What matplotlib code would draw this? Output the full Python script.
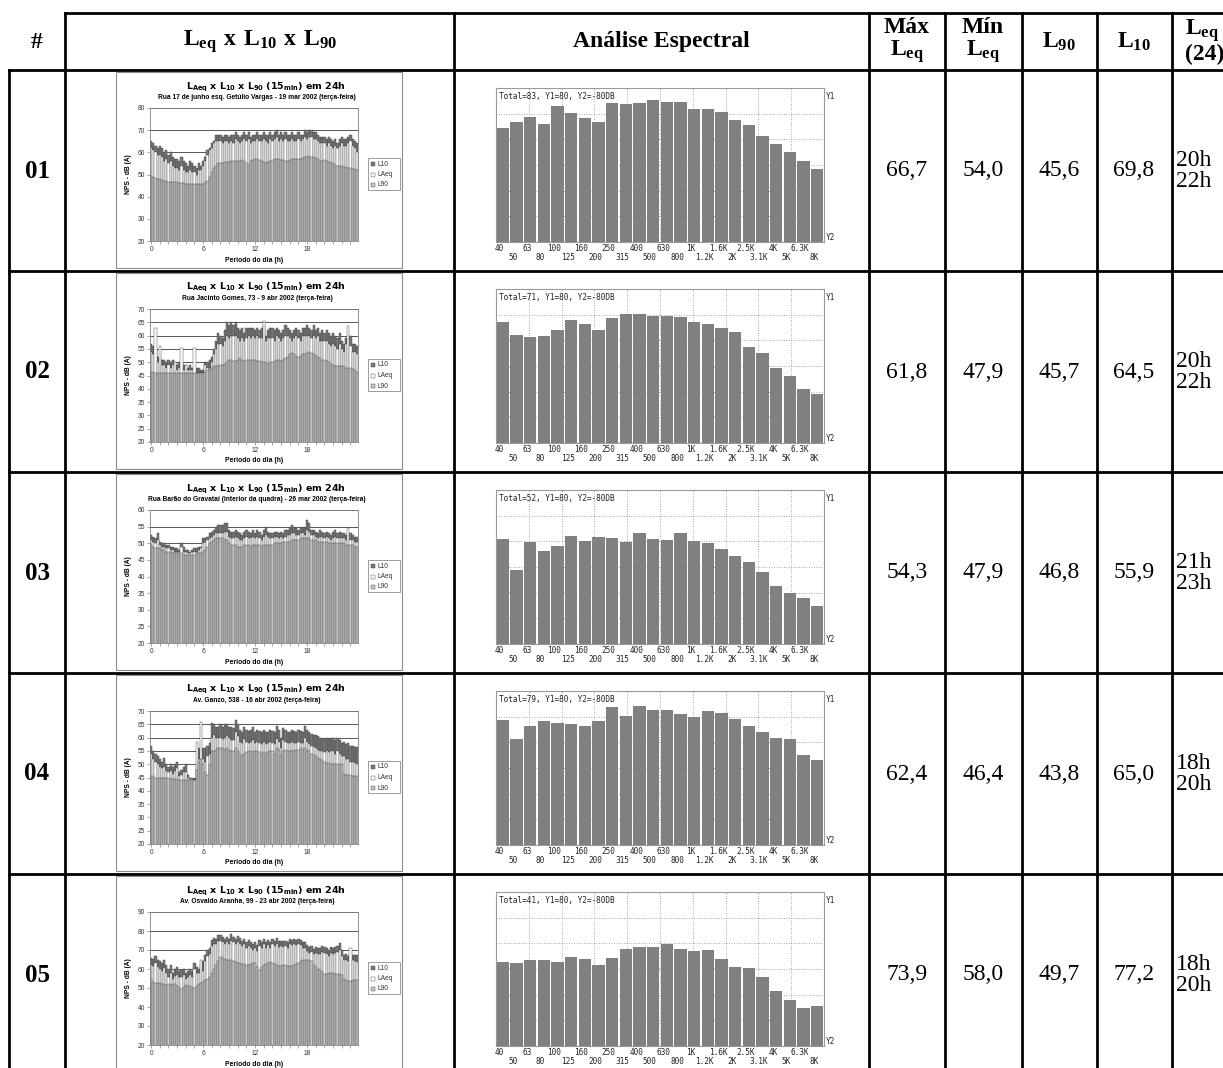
import matplotlib
matplotlib.use('Agg')
import matplotlib.pyplot as plt
from matplotlib.patches import Rectangle
import numpy as np

plt.rcParams['mathtext.rm'] = 'Liberation Serif'
plt.rcParams['mathtext.bf'] = 'Liberation Serif:bold'

# ---- table values ----
row_ids = ['01', '02', '03', '04', '05']
max_leq = ['66,7', '61,8', '54,3', '62,4', '73,9']
min_leq = ['54,0', '47,9', '47,9', '46,4', '58,0']
l90_col = ['45,6', '45,7', '46,8', '43,8', '49,7']
l10_col = ['69,8', '64,5', '55,9', '65,0', '77,2']
leq24 = ['20h\n22h', '20h\n22h', '21h\n23h', '18h\n20h', '18h\n20h']

# ---- 15 min series (96 values per day) ----
quarter = list(range(96))
hour_ticks = [0, 24, 48, 72]
hour_labels = ['0', '6', '12', '18']

l10_01 = [65, 64, 63, 62, 63, 62, 60, 61, 59, 60, 58, 57, 57, 56, 58, 56,
          55, 54, 56, 55, 54, 53, 55, 54, 56, 58, 61, 62, 64, 65, 68, 68,
          68, 67, 68, 68, 67, 68, 68, 69, 68, 67, 68, 69, 68, 69, 67, 68,
          68, 69, 68, 68, 69, 68, 68, 69, 68, 69, 70, 68, 69, 68, 69, 68,
          68, 69, 68, 68, 69, 68, 68, 70, 69, 70, 70, 69, 69, 68, 67, 67,
          67, 66, 67, 66, 65, 66, 64, 66, 67, 66, 66, 67, 68, 66, 65, 64]
laeq_01 = [62, 61, 60, 59, 59, 58, 56, 57, 55, 56, 54, 53, 53, 52, 54, 52,
           51, 51, 52, 51, 51, 50, 52, 52, 54, 56, 59, 61, 62, 64, 65, 65,
           65, 64, 65, 65, 64, 65, 64, 66, 65, 64, 65, 66, 65, 66, 64, 65,
           65, 66, 65, 65, 66, 65, 64, 66, 65, 66, 67, 65, 66, 65, 66, 65,
           65, 66, 65, 65, 66, 65, 66, 67, 66, 67, 67, 66, 66, 65, 64, 64,
           64, 63, 64, 63, 62, 63, 62, 63, 64, 63, 63, 64, 65, 63, 62, 60]
l90_01 = [49.5, 49, 48.5, 48, 48, 47.5, 47, 47, 46.5, 46.5, 46.5, 46.5, 46.5, 46, 46, 46,
          45.5, 45.5, 45.5, 45.5, 45.5, 45.5, 45.5, 45.5, 45.5, 46, 47, 49, 51, 53, 54, 55,
          55, 55, 55.5, 55.5, 55.5, 56, 56, 56, 56, 56, 56.5, 56, 55, 54.5, 56, 56.5,
          57, 57, 56.5, 56, 55.5, 55, 55.5, 56, 56.5, 57, 57, 57, 56.5, 56.5, 56, 56,
          56.5, 57, 57, 57, 57, 57, 57.5, 58, 58, 58.5, 58, 58, 57.5, 57, 56, 56,
          56.5, 56, 55.5, 55, 55, 54.5, 54, 54, 54, 53.5, 53.5, 53, 53, 52.5, 52.5, 52]

l10_02 = [57, 56, 55, 52, 52, 51, 51, 50, 51, 50, 51, 50, 49, 50, 50, 49,
          49, 48, 49, 48, 47, 48, 48, 47, 47, 50, 50, 51, 52, 55, 58, 61,
          60, 59, 62, 65, 64, 65, 64, 65, 63, 62, 63, 61, 63, 63, 63, 63,
          62, 63, 62, 63, 64, 60, 62, 63, 63, 62, 63, 62, 61, 62, 64, 63,
          62, 61, 62, 63, 62, 61, 63, 63, 64, 63, 62, 64, 62, 63, 61, 62,
          61, 62, 61, 60, 61, 60, 59, 61, 58, 57, 59, 60, 60, 57, 57, 56]
laeq_02 = [54, 53, 63, 50, 56, 49, 49, 48, 49, 48, 49, 50, 47, 48, 55.5, 47,
           49, 47, 47, 47, 55.5, 46, 46, 46, 46, 49, 48, 48, 50, 53, 55, 57,
           57, 56, 58, 60, 59, 60, 60, 60, 59, 58, 59, 58, 59, 60, 59, 60,
           59, 60, 59, 59, 65.5, 58, 59, 59, 59, 58, 60, 59, 58, 59, 60, 60,
           59, 58, 59, 60, 59, 58, 60, 60, 60, 60, 59, 60, 59, 60, 58, 58,
           58, 58, 57, 56, 57, 56, 55, 57, 55, 54, 57, 63.5, 56, 54, 54, 53]
l90_02 = [46.5, 46.5, 46, 46, 46, 46, 46, 46, 46, 46, 46, 46, 46, 46, 46, 46,
          46, 46, 46, 46, 46, 46, 46, 46, 46, 46.5, 47, 47.5, 48, 48.5, 48.5, 48.5,
          49, 49, 49.5, 50, 51, 51, 50.5, 50.5, 51, 51.5, 51, 50.5, 51, 51, 51, 51,
          51, 50.5, 50.5, 50, 50, 50, 49.5, 50, 50, 50.5, 51, 51, 50.5, 51, 51.5, 52,
          53, 53.5, 53, 52.5, 52, 52.5, 53, 53, 53.5, 54, 53.5, 53, 52.5, 52, 51.5, 51,
          51, 50.5, 50, 49.5, 49, 48.5, 48.5, 48.5, 48.5, 48.5, 48, 48, 48, 47.5, 47, 46.5]

l10_03 = [52.5, 52, 51.5, 53, 50.5, 50, 50, 49.5, 49.5, 49, 49, 48.5, 48.5, 48, 50, 49,
          48, 48, 47.5, 48, 48.5, 48.5, 49, 49, 51.5, 51.5, 52, 53, 53.5, 54, 55, 55.5,
          55.5, 55.5, 56, 56, 54, 53.5, 53.5, 54, 53.5, 53, 52.5, 53.5, 54, 53.5, 53, 54,
          53, 54, 53.5, 52.5, 54, 55, 53.5, 53, 53, 53.5, 53.5, 53, 53.5, 53, 54, 54,
          54.5, 55.5, 55, 54.5, 54, 54.5, 55, 54.5, 57, 56, 54, 54, 53.5, 53, 54, 53.5,
          53, 53.5, 53, 52.5, 53.5, 54, 53, 53.5, 53, 53, 52.5, 53, 53, 52.5, 52, 52]
laeq_03 = [51, 50.5, 50, 51, 49.5, 49, 49, 48.5, 48.5, 48, 48, 47.5, 47.5, 47.5, 49, 47.5,
           47.5, 47, 47, 47.5, 47.5, 47.5, 48, 48.5, 50, 50.5, 51, 51.5, 52, 52.5, 53, 53,
           53, 53, 53.5, 53.5, 52, 51.5, 51.5, 52, 51.5, 51, 51, 51.5, 52, 51.5, 51.5, 52,
           51.5, 52, 51.5, 51, 52, 52.5, 52, 51.5, 51.5, 52, 52, 51.5, 52, 51.5, 52, 52.5,
           52.5, 53, 53, 52.5, 52.5, 53, 53, 52.5, 54, 53.5, 52.5, 52.5, 52, 51.5, 52, 52,
           51.5, 52, 51.5, 51, 51.5, 52, 51.5, 51.5, 51.5, 51.5, 51, 54.5, 51, 51, 50.5, 50.5]
l90_03 = [49.5, 49, 48.5, 48.5, 48.5, 48, 48, 47.5, 47.5, 47.5, 47, 47, 47, 47, 47, 46.5,
          46.5, 46.5, 46.5, 46.5, 46.5, 47, 47, 47, 47.5, 48, 49, 50, 50.5, 51, 51.5, 51.5,
          51.5, 51.5, 51, 51, 50, 49.5, 49.5, 49.5, 49, 49, 49, 49.5, 49.5, 49.5, 49, 49.5,
          49.5, 49.5, 49.5, 49, 49.5, 49.5, 49.5, 49.5, 49.5, 50, 50, 50, 50, 50.5, 50.5, 50.5,
          50.5, 51, 51, 51, 51, 51.5, 51.5, 51.5, 51.5, 51.5, 51, 51, 51, 50.5, 50.5, 50.5,
          50.5, 50.5, 50, 50, 50, 50, 50, 50, 50, 50, 49.5, 49.5, 49.5, 49.5, 49, 49]

l10_04 = [57, 55, 54, 53, 52, 51, 52.5, 50, 49, 50, 49, 50, 51, 47, 48, 49,
          50, 46, 45, 45, 44.5, 50, 56, 55, 56, 56, 57, 58, 65.5, 65, 64, 64,
          65, 64, 65, 65, 64, 64, 63.5, 66.5, 65, 63, 62, 64, 63, 62.5, 63, 64,
          62, 63, 62.5, 62, 63, 62, 62, 63, 62.5, 62, 64.5, 63, 60, 63.5, 63, 62,
          62, 63, 62.5, 62, 63, 62.5, 62, 64.5, 63, 62, 61.5, 61, 61, 60.5, 60, 60,
          59.5, 60, 59.5, 60, 60, 59, 60, 59, 58, 58.5, 57.5, 58, 57, 57, 56.5, 56.5]
laeq_04 = [54, 52, 51, 50, 49, 48.5, 49, 47.5, 47, 47.5, 46.5, 47.5, 48.5, 45.5, 46, 47,
           47, 45, 44.5, 44.5, 44, 58.5, 52, 66, 52, 51, 53, 54, 60, 61, 60, 60,
           60, 59.5, 60, 60.5, 60, 59, 59, 62, 60.5, 58.5, 58, 59.5, 58.5, 58, 58.5, 59,
           58, 58.5, 58, 57.5, 58.5, 57.5, 58, 58.5, 58, 57.5, 59.5, 58.5, 56, 59, 58.5, 58,
           58, 58.5, 58, 58, 58.5, 58, 58, 60, 58.5, 57.5, 57, 56.5, 56, 55.5, 55, 55,
           54.5, 55, 54.5, 55, 55, 54, 55, 54, 53, 53, 52, 52, 51, 51, 50.5, 50]
l90_04 = [45.5, 45.5, 45, 45, 45, 45, 45, 45, 45, 44.5, 44.5, 44.5, 44.5, 44, 44, 44,
          44, 44, 44, 44, 44, 48, 51, 52, 50, 47, 46, 50, 55, 55, 55.5, 56,
          56, 56, 55.5, 56, 55.5, 55, 55, 56, 55, 54, 53, 54, 54.5, 55, 55, 54.5,
          55, 55, 54.5, 54, 54.5, 54, 54.5, 55, 55, 54, 56, 55.5, 53, 55, 55.5, 55,
          55, 55.5, 55, 55.5, 55.5, 56, 55.5, 56, 55.5, 55, 54, 53.5, 53, 52.5, 52, 51.5,
          51, 50.5, 50.5, 50, 50, 50, 50, 50, 50, 46.5, 46, 46, 46, 45.5, 45.5, 45.5]

l10_05 = [66, 65.5, 67, 65, 64, 63, 64.5, 62, 60, 62, 58, 60, 61, 59, 59.5, 60,
          58, 59, 60, 59, 63, 61, 60, 62, 64, 67.5, 70, 71, 75.5, 76.5, 76, 78,
          78, 77, 76, 77, 76, 78.5, 77, 76, 77.5, 76.5, 75, 76, 74, 75.5, 74, 73,
          74, 72.5, 75.5, 74, 76, 74, 75.5, 74, 76, 75, 76.5, 74.5, 75, 74.5, 75, 74,
          76, 75.5, 76, 75.5, 76, 75.5, 74, 74, 72.5, 71.5, 72, 70.5, 71.5, 71, 71, 72,
          71.5, 71, 70, 71.5, 71, 71.5, 72, 73.5, 70, 67.5, 68, 67, 68, 67.5, 67.5, 67.5]
laeq_05 = [62, 61.5, 63, 61, 60, 59, 60.5, 58, 56, 58, 55, 56.5, 57, 56, 56, 57,
           55, 56, 57, 56, 60, 58, 58, 64.5, 59, 64, 67, 68, 72, 73, 73, 74.5,
           74.5, 74, 73, 74, 73, 75, 74, 73, 74, 73, 72, 73, 71, 72, 71, 70,
           71, 69.5, 72, 71, 73, 71, 72.5, 71, 73, 72, 73, 71.5, 72, 71.5, 72, 71,
           73, 72.5, 73, 72.5, 73, 72.5, 71, 71, 69.5, 68.5, 69, 68, 68.5, 68, 68, 69,
           68.5, 68, 67, 68.5, 68, 68.5, 69, 70, 67, 64.5, 65, 64, 71, 64.5, 64, 63.5]
l90_05 = [55, 53, 52.5, 52.5, 52.5, 52, 52, 51.5, 52, 51.5, 52, 52, 51, 50.5, 49.5, 50.5,
          51.5, 51, 51, 50.5, 50, 51, 52, 52.5, 53, 54, 55, 56, 58, 60, 62, 64,
          66.5, 66, 65.5, 65, 65, 64.5, 64, 63.5, 63, 63, 62.5, 62.5, 62, 62, 62.5, 63,
          63, 61, 59.5, 61, 62, 62.5, 63, 63.5, 63, 62.5, 62, 61.5, 61.5, 62, 62, 61.5,
          61.5, 61.5, 62, 62.5, 63, 64, 65, 65, 65, 64.5, 64, 62, 61, 60, 59.5, 58.5,
          57.5, 57.5, 58, 58, 58, 57.5, 57.5, 57.5, 57, 55, 54, 53.5, 53.5, 54, 54, 54]

l10_series = [l10_01, l10_02, l10_03, l10_04, l10_05]
laeq_series = [laeq_01, laeq_02, laeq_03, laeq_04, laeq_05]
l90_series = [l90_01, l90_02, l90_03, l90_04, l90_05]
y_max = [80, 70, 60, 70, 90]
y_step = [10, 5, 5, 5, 10]
subtitles = ['Rua 17 de junho esq. Getúlio Vargas - 19 mar 2002 (terça-feira)',
             'Rua Jacinto Gomes, 73 - 9 abr 2002 (terça-feira)',
             'Rua Barão do Gravataí (interior da quadra) - 26 mar 2002 (terça-feira)',
             'Av. Ganzo, 538 - 16 abr 2002 (terça-feira)',
             'Av. Osvaldo Aranha, 99 - 23 abr 2002 (terça-feira)']

# ---- spectra (dB, 24 third-octave bands) ----
bands = ['40', '50', '63', '80', '100', '125', '160', '200', '250', '315', '400', '500',
         '630', '800', '1K', '1.2K', '1.6K', '2K', '2.5K', '3.1K', '4K', '5K', '6.3K', '8K']
spec_01 = [38.8, 45.0, 49.9, 42.9, 61.0, 54.0, 49.2, 45.0, 64.4, 63.7, 64.4, 67.2,
           65.5, 65.8, 58.2, 58.2, 54.7, 47.1, 41.6, 30.5, 22.2, 13.9, 4.5, -3.8]
spec_02 = [45.7, 32.5, 29.8, 31.4, 37.2, 47.3, 43.6, 37.8, 49.4, 53.6, 54.1, 52.0,
           52.0, 50.4, 45.7, 43.6, 39.3, 35.1, 19.8, 13.5, -2.4, -10.3, -24.0, -28.8]
spec_03 = [28.8, -2.6, 26.1, 16.7, 21.4, 32.4, 26.7, 31.4, 30.3, 25.6, 35.0, 28.8,
           28.2, 35.6, 26.7, 24.6, 18.3, 11.0, 4.7, -5.7, -19.3, -27.2, -32.4, -40.8]
spec_04 = [50.2, 30.3, 43.4, 48.6, 47.1, 46.0, 43.9, 48.6, 63.3, 53.9, 64.3, 60.7,
           60.7, 56.5, 52.8, 59.1, 57.5, 50.7, 43.4, 37.6, 31.4, 29.8, 13.1, 7.8]
spec_05 = [7.1, 6.0, 9.2, 9.2, 7.1, 12.9, 10.2, 3.9, 11.8, 20.7, 22.8, 23.3,
           26.0, 20.7, 18.6, 19.7, 10.8, 2.4, 1.3, -8.1, -22.8, -31.7, -40.7, -38.0]
spectra = [spec_01, spec_02, spec_03, spec_04, spec_05]
totals = [83, 71, 52, 79, 41]
Y1, Y2 = 80, -80

# ---- figure in pixel coordinates ----
W, H = 1223, 1068
fig = plt.figure(figsize=(W / 100, H / 100), dpi=100)
base = fig.add_axes([0, 0, 1, 1])
base.set_xlim(0, W)
base.set_ylim(H, 0)
base.axis('off')


def px_axes(x0, y0, x1, y1):
    return fig.add_axes([x0 / W, 1 - y1 / H, (x1 - x0) / W, (y1 - y0) / H])


serif = 'Liberation Serif'
sans = 'Liberation Sans'
mono = 'DejaVu Sans Mono'

# table grid
row_h = 201
row_tops = [70 + row_h * i for i in range(5)]
lw = 2.0
base.plot([65, W], [13, 13], color='black', lw=lw)
base.plot([9, W], [70, 70], color='black', lw=lw)
for r0 in row_tops[1:]:
    base.plot([9, W], [r0, r0], color='black', lw=lw)
base.plot([9, 9], [70, H], color='black', lw=lw)
for xv in [65, 454, 869, 945, 1022, 1097, 1172]:
    base.plot([xv, xv], [13, H], color='black', lw=lw)

# header
hdr = dict(ha='center', va='center', fontsize=17, fontweight='bold', family=serif,
           math_fontfamily='custom', linespacing=1.0)
base.text(37, 42, '#', **hdr)
base.text(260, 42, r'$\mathbf{L_{eq}\ x\ L_{10}\ x\ L_{90}}$', **hdr)
base.text(661, 42, 'Análise Espectral', **hdr)
base.text(907, 41, 'Máx\n' + r'$\mathbf{L_{eq}}$', **hdr)
base.text(983, 41, 'Mín\n' + r'$\mathbf{L_{eq}}$', **hdr)
base.text(1059, 42, r'$\mathbf{L_{90}}$', **hdr)
base.text(1134, 42, r'$\mathbf{L_{10}}$', **hdr)
base.text(1185, 41, r'$\mathbf{L_{eq}}$' + '\n(24)', ha='left', va='center', fontsize=17,
          fontweight='bold', family=serif, math_fontfamily='custom', linespacing=1.0)

for i in range(5):
    r0 = row_tops[i]
    yc = r0 + 101
    base.text(37, yc, row_ids[i], ha='center', va='center', fontsize=18,
              fontweight='bold', family=serif)
    for xc, val in zip([907, 983, 1059, 1134], [max_leq[i], min_leq[i], l90_col[i], l10_col[i]]):
        base.text(xc, yc, val, ha='center', va='center', fontsize=17, family=serif)
    base.text(1176, yc, leq24[i], ha='left', va='center', fontsize=17, family=serif,
              linespacing=1.0)

    # ---- left chart (Excel style) ----
    base.add_patch(Rectangle((116, r0 + 2), 286, 196, facecolor='white',
                             edgecolor='#8c8c8c', lw=0.8))
    base.text(266, r0 + 19, r'$\mathbf{L_{Aeq}\ x\ L_{10}\ x\ L_{90}\ (15_{min})\ em\ 24h}$',
              ha='center', va='baseline', fontsize=6.8, math_fontfamily='dejavusans')
    base.text(257, r0 + 24, subtitles[i], ha='center', va='top', fontsize=4.8,
              fontweight='bold', family=sans)
    base.text(128, r0 + 104, 'NPS - dB (A)', ha='center', va='center', rotation=90,
              fontsize=4.8, fontweight='bold', family=sans)
    base.text(254, r0 + 190, 'Periodo do dia (h)', ha='center', va='center',
              fontsize=4.9, fontweight='bold', family=sans)

    ax = px_axes(150, r0 + 38, 358, r0 + 171)
    ax.bar(quarter, l10_series[i], width=1.0, color='#7a7a7a', edgecolor='#3c3c3c', lw=0.3)
    ax.bar(quarter, laeq_series[i], width=1.0, color='white', edgecolor='#3c3c3c', lw=0.3)
    ax.bar(quarter, l90_series[i], width=1.0, color='#c6c6c6', edgecolor='#3c3c3c', lw=0.3)
    ax.set_xlim(-0.5, 95.5)
    ax.set_ylim(20, y_max[i])
    ax.set_yticks(range(20, y_max[i] + 1, y_step[i]))
    ax.set_xticks(hour_ticks)
    ax.set_xticklabels(hour_labels)
    ax.set_xticks(range(0, 96, 4), minor=True)
    ax.set_axisbelow(True)
    ax.yaxis.grid(True, color='#3a3a3a', lw=0.6)
    ax.tick_params(labelsize=4.8, length=2, width=0.5, color='#808080', pad=1.5,
                   labelcolor='#333333')
    ax.tick_params(which='minor', length=2, width=0.5, color='#808080')
    for tl in ax.get_xticklabels() + ax.get_yticklabels():
        tl.set_family(sans)
    for sp in ax.spines.values():
        sp.set_color('#808080')
        sp.set_linewidth(0.6)

    # legend box
    base.add_patch(Rectangle((368, r0 + 88), 32, 32, facecolor='white',
                             edgecolor='#8c8c8c', lw=0.6))
    for k, (lab, col) in enumerate([('L10', '#7a7a7a'), ('LAeq', 'white'), ('L90', '#c6c6c6')]):
        yy = r0 + 94 + 10.5 * k
        base.add_patch(Rectangle((371, yy - 2), 4, 4, facecolor=col, edgecolor='#3c3c3c', lw=0.3))
        base.text(377, yy, lab, ha='left', va='center', fontsize=4.8, family=sans,
                  color='#333333')

    # ---- spectrum ----
    sx = px_axes(496, r0 + 18, 824, r0 + 172)
    centers = np.arange(len(bands)) + 0.5
    sx.bar(centers, np.array(spectra[i]) - Y2, bottom=Y2, width=0.88, color='#808080',
           zorder=3)
    sx.set_xlim(0, len(bands))
    sx.set_ylim(Y2, Y1)
    sx.set_xticks(np.arange(1, 10) * len(bands) / 10)
    sx.set_yticks(Y2 + np.arange(1, 6) * (Y1 - Y2) / 6)
    sx.grid(True, linestyle=(0, (1, 2)), color='#8a8a8a', lw=0.6, zorder=0)
    sx.tick_params(length=0, labelbottom=False, labelleft=False)
    for sp in sx.spines.values():
        sp.set_color('#9a9a9a')
        sp.set_linewidth(0.8)
    sx.text(0.008, 0.975, 'Total=%d, Y1=%d, Y2=%dDB' % (totals[i], Y1, Y2),
            transform=sx.transAxes, ha='left', va='top', fontsize=5.6, family=mono,
            color='#222222', zorder=4)
    sx.text(1.005, 0.975, 'Y1', transform=sx.transAxes, ha='left', va='top',
            fontsize=5.6, family=mono, color='#222222')
    sx.text(1.005, 0.0, 'Y2', transform=sx.transAxes, ha='left', va='bottom',
            fontsize=5.6, family=mono, color='#222222')
    tr = sx.get_xaxis_transform()
    for k, lab in enumerate(bands):
        yoff = -0.04 if k % 2 == 0 else -0.098
        sx.text(k + 0.25, yoff, lab, transform=tr, ha='center', va='center',
                fontsize=5.6, family=mono, color='#222222', clip_on=False)

fig.savefig('out.png', dpi=100)
